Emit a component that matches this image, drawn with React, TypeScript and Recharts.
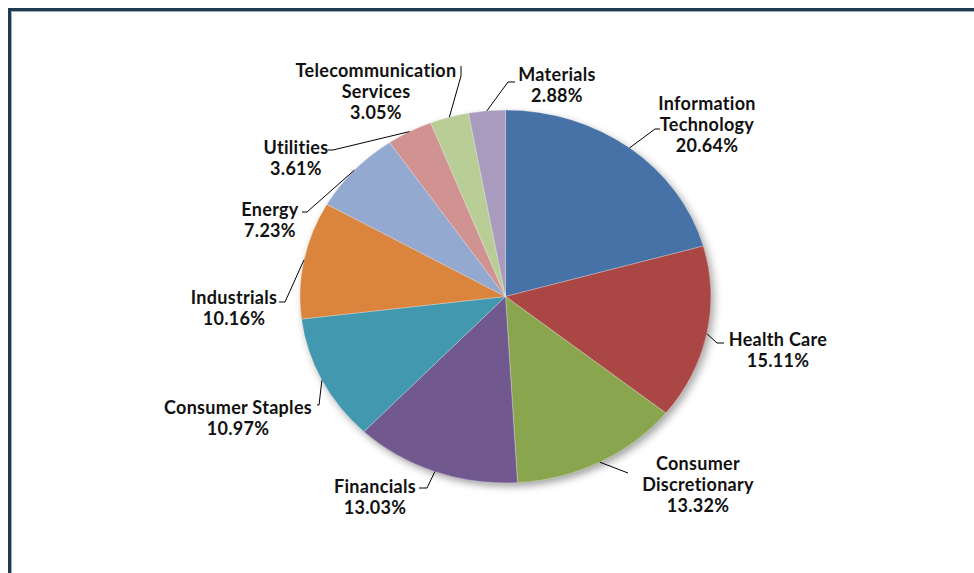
import React from "react";
import { Pie, PieChart } from "recharts";

// S&P style sector weights, clockwise from 12 o'clock
const sectors = [
  "Information\nTechnology",
  "Health Care",
  "Consumer\nDiscretionary",
  "Financials",
  "Consumer Staples",
  "Industrials",
  "Energy",
  "Utilities",
  "Telecommunication\nServices",
  "Materials",
];
const weights = [20.64, 15.11, 13.32, 13.03, 10.97, 10.16, 7.23, 3.61, 3.05, 2.88];
const sliceColors = [
  "#4672a8",
  "#aa4644",
  "#89a54e",
  "#71588f",
  "#4298af",
  "#db843d",
  "#93a9cf",
  "#d19392",
  "#b9cd96",
  "#a99bbd",
];

// label placement: text centre, elbow of leader, end of leader
const labelLayout = [
  { tx: 707, ty: 103, ex: 655, ey: 129, fx: 660, fy: 129 },
  { tx: 778, ty: 339, ex: 717, ey: 343, fx: 724, fy: 343 },
  { tx: 698, ty: 463, ex: 628, ey: 473, fx: 628, fy: 473 },
  { tx: 375, ty: 486, ex: 427, ey: 488, fx: 419, fy: 488 },
  { tx: 238, ty: 407, ex: 319, ey: 405, fx: 317, fy: 405 },
  { tx: 234, ty: 297, ex: 285, ey: 302, fx: 279, fy: 302 },
  { tx: 270, ty: 209, ex: 307, ey: 212, fx: 302, fy: 212 },
  { tx: 296, ty: 147, ex: 333, ey: 150, fx: 328, fy: 150 },
  { tx: 376, ty: 70, ex: 461, ey: 76, fx: 461, fy: 66 },
  { tx: 557, ty: 74, ex: 508, ey: 82, fx: 515, fy: 82 },
];

const W = 974;
const H = 573;
const CX = 505.5;
const CY = 296.5;
const R = 205.5;
const SQUASH = 0.9075; // the original pie is slightly elliptical
const RADIAN = Math.PI / 180;

const data = sectors.map((name, i) => ({ name, value: weights[i], fill: sliceColors[i] }));

function renderLabel(props: any) {
  const { cx, cy, midAngle, outerRadius, index, value } = props;
  const lay = labelLayout[index];
  const sx = cx + outerRadius * Math.cos(-midAngle * RADIAN);
  const sy = cy + outerRadius * SQUASH * Math.sin(-midAngle * RADIAN);
  const lines = [...sectors[index].split("\n"), `${value.toFixed(2)}%`];
  return (
    <g key={`lbl-${index}`}>
      <polyline
        points={`${sx},${sy} ${lay.ex},${lay.ey} ${lay.fx},${lay.fy}`}
        fill="none"
        stroke="#000"
        strokeWidth={1}
      />
      <text
        x={lay.tx}
        y={lay.ty}
        textAnchor="middle"
        fill="#111"
        fontFamily="Lato, 'Open Sans', sans-serif"
        fontWeight={700}
        fontSize={18}
        letterSpacing={0.3}
      >
        {lines.map((l, k) => (
          <tspan key={k} x={lay.tx} y={lay.ty + k * 21} dominantBaseline="central">
            {l}
          </tspan>
        ))}
      </text>
    </g>
  );
}

export default function App() {
  return (
    <div style={{ position: "absolute", left: 0, top: 0, width: W, height: H, background: "#fff" }}>
      <style>{`
        g:has(> .recharts-pie-sector) {
          transform: scaleY(${SQUASH});
          transform-origin: ${CX}px ${CY}px;
          filter: drop-shadow(3px 4px 4px rgba(0,0,0,0.35));
        }
      `}</style>
      <div
        style={{
          position: "absolute",
          left: 8,
          top: 8,
          width: W - 8,
          height: H - 8,
          borderTop: "3px solid #1f3b53",
          borderLeft: "3px solid #1f3b53",
          boxSizing: "border-box",
          boxShadow: "inset 1px 1px 0 #9fb0c0",
        }}
      />
      <div style={{ position: "absolute", left: 0, top: 0 }}>
        <PieChart width={W} height={H} margin={{ top: 0, right: 0, bottom: 0, left: 0 }}>
          <Pie
            data={data}
            dataKey="value"
            nameKey="name"
            cx={CX}
            cy={CY}
            outerRadius={R}
            startAngle={90}
            endAngle={-270}
            stroke="rgba(255,255,255,0.5)"
            strokeWidth={0.6}
            label={renderLabel}
            labelLine={false}
            isAnimationActive={false}
          />
        </PieChart>
      </div>
    </div>
  );
}
